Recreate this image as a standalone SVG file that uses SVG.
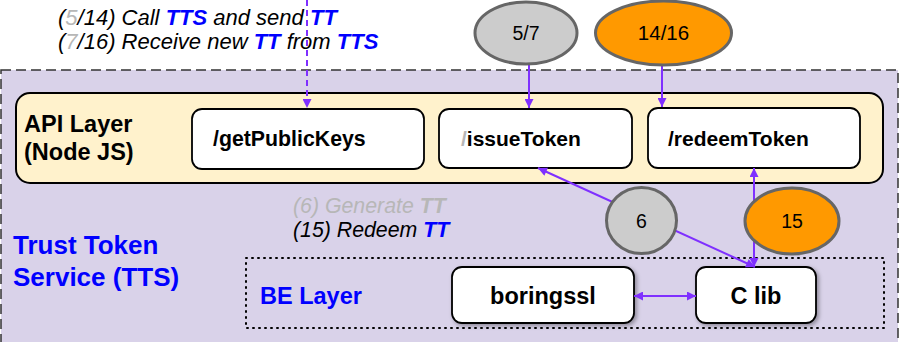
<svg xmlns="http://www.w3.org/2000/svg" width="904" height="342" viewBox="0 0 904 342">
<style>
.lbl{font-family:"Liberation Sans",Arial,sans-serif;font-weight:bold;fill:#000}
.blue{font-family:"Liberation Sans",Arial,sans-serif;font-weight:bold;fill:#0000ff}
.it{font-family:"Liberation Sans",Arial,sans-serif;font-style:italic;fill:#000}
.b{font-weight:bold;fill:#0000ff}
.g{fill:#b7b7b7}
.box{fill:#fff;stroke:#000;stroke-width:1.8}
.num{font-family:"Liberation Sans",Arial,sans-serif;font-size:19.5px;fill:#000;text-anchor:middle}
.ell{stroke:#666;stroke-width:3}
.conn{stroke:#7f30ff;stroke-width:2;fill:none}
</style>
<defs>
<marker id="ah" viewBox="0 0 10 10" refX="10" refY="5" markerWidth="10" markerHeight="9" markerUnits="userSpaceOnUse" orient="auto-start-reverse">
<path d="M0,0 L10,5 L0,10 z" fill="#7f30ff"/>
</marker>
<filter id="sh" x="-10%" y="-10%" width="130%" height="140%">
<feDropShadow dx="2" dy="2" stdDeviation="2" flood-color="#000" flood-opacity="0.35"/>
</filter>
</defs>
<rect width="904" height="342" fill="#fff"/>

<g id="tts">
<rect x="1" y="70" width="897" height="290" fill="#d9d2e9" stroke="#333" stroke-width="1.5" stroke-dasharray="10 5"/>
<text class="blue" font-size="26" x="13" y="254">Trust Token</text>
<text class="blue" font-size="26" x="13" y="286">Service (TTS)</text>
</g>

<g id="api-layer">
<rect x="16" y="93" width="867" height="90" rx="14" fill="#fff2cc" stroke="#000" stroke-width="2"/>
<text class="lbl" font-size="23.5" x="24" y="132">API Layer</text>
<text class="lbl" font-size="23.5" x="24" y="160">(Node JS)</text>
</g>

<g id="getPublicKeys">
<rect class="box" x="192" y="109" width="232" height="60" rx="10"/>
<text class="lbl" font-size="21.3" x="213" y="146">/getPublicKeys</text>
</g>
<g id="issueToken">
<rect class="box" x="439" y="109" width="193" height="59" rx="10"/>
<text class="lbl" font-size="21" x="461" y="146"><tspan class="g">/</tspan>issueToken</text>
</g>
<g id="redeemToken">
<rect class="box" x="648" y="108" width="212" height="60" rx="10"/>
<text class="lbl" font-size="21" x="668" y="146">/redeemToken</text>
</g>

<g id="be-layer">
<rect x="246" y="258" width="638" height="70" fill="none" stroke="#000" stroke-width="2" stroke-dasharray="1 5" stroke-linecap="round"/>
<text class="blue" font-size="23.5" x="260" y="304">BE Layer</text>
</g>

<g id="boringssl">
<rect class="box" x="452" y="267" width="182" height="56" rx="10" filter="url(#sh)"/>
<text class="lbl" font-size="23.5" x="543" y="304" text-anchor="middle">boringssl</text>
</g>
<g id="clib">
<rect class="box" x="696" y="267" width="120" height="56" rx="10" filter="url(#sh)"/>
<text class="lbl" font-size="23.5" x="756" y="304" text-anchor="middle">C lib</text>
</g>

<g id="notes">
<text class="it" font-size="22" x="58" y="25">(<tspan class="g">5</tspan>/14) Call <tspan class="b">TTS</tspan> and send <tspan class="b">TT</tspan></text>
<text class="it" font-size="22" x="58" y="49">(<tspan class="g">7</tspan>/16) Receive new <tspan class="b">TT</tspan> from <tspan class="b">TTS</tspan></text>
<text class="it" font-size="21.3" x="293" y="213" style="fill:#b7b7b7">(6) Generate <tspan font-weight="bold">TT</tspan></text>
<text class="it" font-size="21.3" x="293" y="237">(15) Redeem <tspan class="b">TT</tspan></text>
</g>

<g id="connectors">
<line class="conn" x1="307" y1="0" x2="307" y2="108" stroke-dasharray="6 4" marker-end="url(#ah)"/>
<line class="conn" x1="529" y1="64" x2="529" y2="108" marker-end="url(#ah)"/>
<line class="conn" x1="662" y1="65" x2="662" y2="107" marker-end="url(#ah)"/>
<line class="conn" x1="538" y1="168" x2="755" y2="267" marker-start="url(#ah)" marker-end="url(#ah)"/>
<line class="conn" x1="754" y1="168" x2="754" y2="267" marker-start="url(#ah)" marker-end="url(#ah)"/>
<line class="conn" x1="634" y1="296" x2="696" y2="296" marker-start="url(#ah)" marker-end="url(#ah)"/>
</g>

<g id="step-5-7">
<ellipse class="ell" cx="526" cy="33" rx="51" ry="31" fill="#cccccc"/>
<text class="num" x="526" y="40">5/7</text>
</g>
<g id="step-14-16">
<ellipse class="ell" cx="663.5" cy="33" rx="68" ry="32" fill="#ff9900"/>
<text class="num" x="663.5" y="40" style="font-size:20.5px">14/16</text>
</g>
<g id="step-6">
<ellipse class="ell" cx="641.5" cy="220.5" rx="35" ry="33" fill="#cccccc"/>
<text class="num" x="641.5" y="228">6</text>
</g>
<g id="step-15">
<ellipse class="ell" cx="792" cy="221" rx="47" ry="33" fill="#ff9900"/>
<text class="num" x="792" y="228">15</text>
</g>
</svg>
